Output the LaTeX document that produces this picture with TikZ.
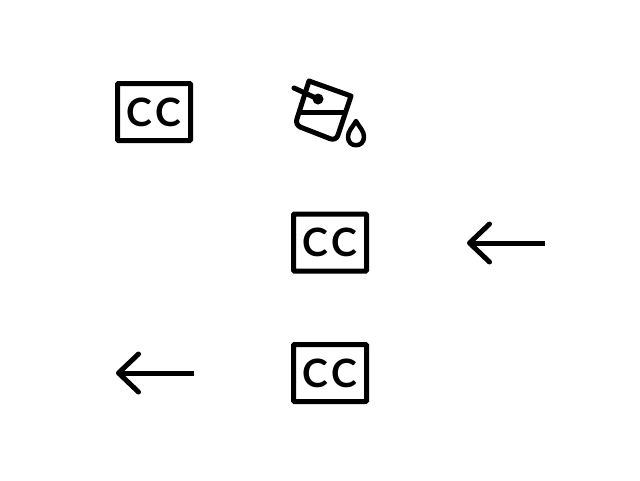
\documentclass[tikz,border=0pt]{standalone}
\usepackage{fontspec}
\setsansfont{Lato}
\usetikzlibrary{arrows.meta}
\tikzset{
  capbox/.style={draw,line width=5pt,rounded corners=1pt,minimum width=73pt,minimum height=57pt,
    inner sep=0pt,font=\sffamily\bfseries\fontsize{39}{39}\selectfont},
  backarrow/.style={line width=5pt,{Straight Barb[length=20pt,width=38pt,line width=5pt,round]}-},
  icon/.style={line width=5pt,line join=round,line cap=round}
}
\newcommand{\capmark}{C\kern3pt C}
\begin{document}
\begin{tikzpicture}[x=1pt,y=-1pt]
  \useasboundingbox (0,0) rectangle (640,480);
  \node[capbox] (capa) at (154,112) {\capmark};
  \node[capbox] (capb) at (330,242.5) {\capmark};
  \node[capbox] (capc) at (330,373) {\capmark};
  % arrows
  \coordinate (taila) at (545,243);
  \coordinate (tipa) at (467,243);
  \coordinate (tailb) at (194,373);
  \coordinate (tipb) at (116,373);
  \draw[backarrow] (tipa) -- (taila);
  \draw[backarrow] (tipb) -- (tailb);
  % bucket
  \draw[icon] (351,96) -- (309,81) [rounded corners=6pt] -- (295,125) -- (336,141) [sharp corners] -- (351,96);
  \draw[icon] (300,112) -- (344,112);
  \draw[icon] (294,88) -- (318,99);
  \fill (318,99) circle (5.5);
  \draw[icon,line width=4.5pt] (356,121) .. controls (352,128) and (348,131) .. (348,137)
    .. controls (348,148) and (364,148) .. (364,137) .. controls (364,131) and (360,128) .. cycle;
\end{tikzpicture}
\end{document}
